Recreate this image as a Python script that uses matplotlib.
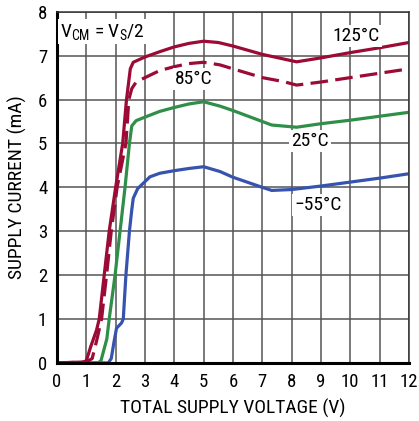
import matplotlib
matplotlib.use("Agg")
import matplotlib.pyplot as plt

plt.rcParams['font.family'] = ['Roboto Condensed', 'DejaVu Sans']
plt.rcParams['mathtext.fontset'] = 'custom'
plt.rcParams['mathtext.rm'] = 'Roboto Condensed'

# data (x: total supply voltage V, y: supply current mA)
x_125 = [0, 0.9, 1.0, 1.15, 1.35, 1.44, 1.61, 1.78, 2.0, 2.24, 2.37, 2.5, 2.6, 3.0, 3.5,
         4.0, 4.5, 5.0, 5.5, 6.0, 7.0, 8.17, 9.0, 10.0, 11.0, 12.0]
y_125 = [0, 0.02, 0.05, 0.37, 0.75, 1.0, 2.0, 3.0, 4.0, 5.0, 6.0, 6.7, 6.85, 6.97, 7.09,
         7.2, 7.28, 7.33, 7.3, 7.22, 7.03, 6.86, 6.95, 7.07, 7.18, 7.3]

x_85 = [0, 1.0, 1.2, 1.35, 1.52, 1.69, 1.85, 2.05, 2.35, 2.45, 2.55, 2.7, 3.0, 3.5, 4.0,
        4.5, 5.0, 5.56, 6.0, 7.0, 7.72, 8.17, 9.0, 10.0, 11.0, 12.0]
y_85 = [0, 0.02, 0.1, 0.5, 1.0, 2.0, 3.0, 4.0, 5.0, 6.0, 6.25, 6.4, 6.5, 6.66, 6.75,
        6.82, 6.85, 6.79, 6.7, 6.5, 6.41, 6.33, 6.4, 6.5, 6.6, 6.7]

x_25 = [0, 1.4, 1.5, 1.6, 1.7, 1.78, 1.98, 2.15, 2.32, 2.47, 2.55, 2.7, 3.0, 3.5, 4.0,
        4.5, 5.0, 5.56, 6.0, 7.0, 7.32, 8.17, 9.0, 10.0, 11.0, 12.0]
y_25 = [0, 0.0, 0.05, 0.3, 0.55, 1.0, 2.0, 3.0, 4.0, 5.0, 5.4, 5.52, 5.6, 5.73, 5.82,
        5.9, 5.95, 5.85, 5.75, 5.5, 5.42, 5.37, 5.45, 5.53, 5.62, 5.71]

x_m55 = [0, 1.75, 1.85, 1.95, 2.03, 2.2, 2.26, 2.35, 2.47, 2.55, 2.6, 2.75, 3.17, 3.5,
         4.0, 4.5, 5.0, 5.56, 6.0, 7.0, 7.32, 8.0, 9.0, 10.0, 11.0, 12.0]
y_m55 = [0, 0.0, 0.1, 0.5, 0.79, 0.91, 1.0, 2.0, 3.0, 3.49, 3.75, 3.97, 4.24, 4.32,
         4.38, 4.43, 4.47, 4.36, 4.23, 4.0, 3.93, 3.95, 4.03, 4.12, 4.21, 4.31]

red = '#9c0a36'
green = '#2f8f48'
blue = '#3653ae'

fig = plt.figure(figsize=(4.19, 4.21), dpi=100)
ax = fig.add_axes([0.136, 0.138, 0.840, 0.834])

ax.plot(x_m55, y_m55, color=blue, lw=2.3, solid_capstyle='butt')
ax.plot(x_25, y_25, color=green, lw=2.3, solid_capstyle='butt')
ax.plot(x_85, y_85, color=red, lw=2.3, dashes=(5.5, 2.3))
ax.plot(x_125, y_125, color=red, lw=2.3, solid_capstyle='butt')

box = dict(facecolor='white', edgecolor='none', pad=1.5)
ax.text(10.2, 7.45, '125°C', fontsize=14, ha='center', va='center', bbox=box)
ax.text(4.67, 6.47, '85°C', fontsize=14, ha='center', va='center', bbox=box)
ax.text(8.63, 5.06, '25°C', fontsize=14, ha='center', va='center', bbox=box)
ax.text(8.91, 3.6, '\u221255°C', fontsize=14, ha='center', va='center', bbox=box)
ax.text(0.1, 7.55, r'$\mathregular{V_{CM}}$ = $\mathregular{V_S}$/2', fontsize=14,
        ha='left', va='center', bbox=box)

ax.set_xlim(0, 12)
ax.set_ylim(0, 8)
ax.set_xticks(range(0, 13))
ax.set_yticks(range(0, 9))
ax.grid(True, color='#555555', lw=1.1)
ax.set_axisbelow(True)
ax.tick_params(length=0, pad=7, labelsize=13.5)

for side in ['left', 'bottom']:
    ax.spines[side].set_linewidth(2.2)
    ax.spines[side].set_color('black')
for side in ['top', 'right']:
    ax.spines[side].set_linewidth(1.1)
    ax.spines[side].set_color('#333333')

ax.set_xlabel('TOTAL SUPPLY VOLTAGE (V)', fontsize=14, labelpad=6)
ax.set_ylabel('SUPPLY CURRENT (mA)', fontsize=14, labelpad=8)

fig.savefig('out.png', dpi=100)
